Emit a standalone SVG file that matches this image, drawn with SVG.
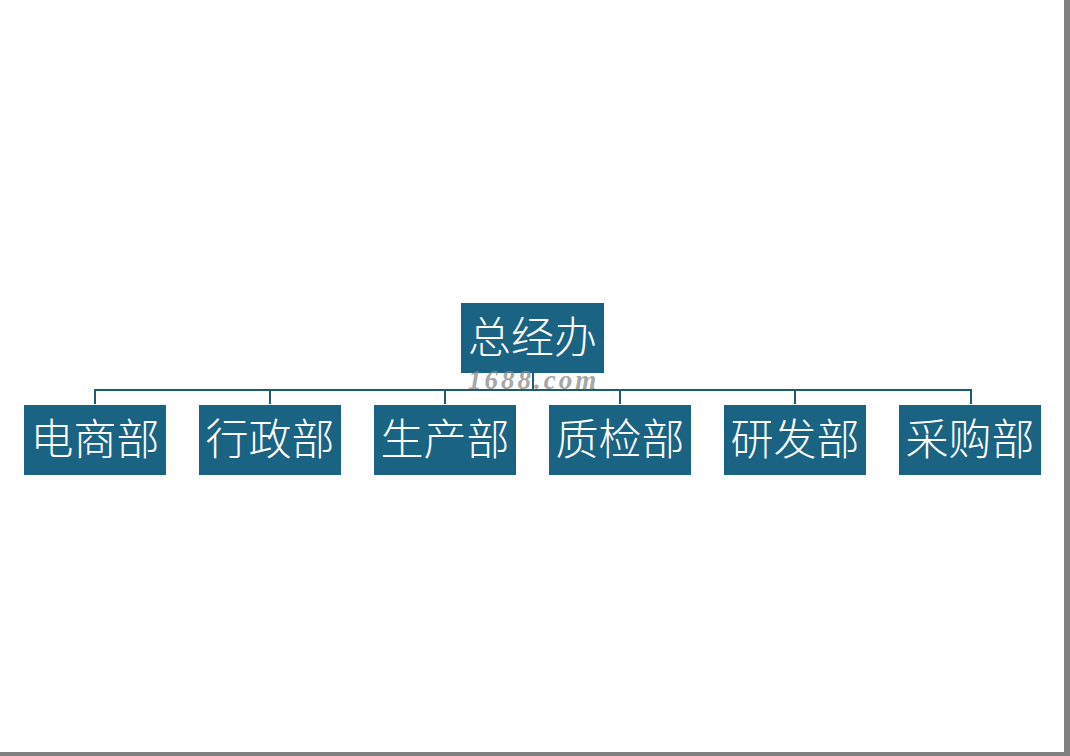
<svg xmlns="http://www.w3.org/2000/svg" width="1070" height="756" viewBox="0 0 1070 756">
<style>
.box{fill:#1b6383;}
.lbl{fill:#ffffff;font-family:"Noto Sans CJK SC","Noto Sans CJK JP",sans-serif;font-weight:300;font-size:43px;text-anchor:middle;}
.ln{stroke:#1d5a75;stroke-width:2;fill:none;}
.wm{fill:#8a8a8a;font-family:"Liberation Serif",serif;font-style:italic;font-weight:bold;font-size:27px;letter-spacing:3px;}
</style>
<rect x="0" y="0" width="1070" height="756" fill="#ffffff"/>
<rect x="1064" y="0" width="6" height="756" fill="#808080"/>
<rect x="0" y="752" width="1070" height="4" fill="#808080"/>
<g id="connectors">
<path class="ln" d="M533 373 V390 M95 404 V390 H971 V404 M270 390 V404 M445 390 V404 M620 390 V404 M795 390 V404"/>
</g>
<g id="n0"><rect class="box" x="461" y="303" width="143" height="70"/><text class="lbl" x="532.5" y="353">总经办</text></g>
<g id="n1"><rect class="box" x="24" y="405" width="142" height="70"/><text class="lbl" x="95" y="455">电商部</text></g>
<g id="n2"><rect class="box" x="199" y="405" width="142" height="70"/><text class="lbl" x="270" y="455">行政部</text></g>
<g id="n3"><rect class="box" x="374" y="405" width="142" height="70"/><text class="lbl" x="445" y="455">生产部</text></g>
<g id="n4"><rect class="box" x="549" y="405" width="142" height="70"/><text class="lbl" x="620" y="455">质检部</text></g>
<g id="n5"><rect class="box" x="724" y="405" width="142" height="70"/><text class="lbl" x="795" y="455">研发部</text></g>
<g id="n6"><rect class="box" x="899" y="405" width="142" height="70"/><text class="lbl" x="970" y="455">采购部</text></g>
<text class="wm" x="468" y="389" opacity="0.75">1688.com</text>
</svg>
